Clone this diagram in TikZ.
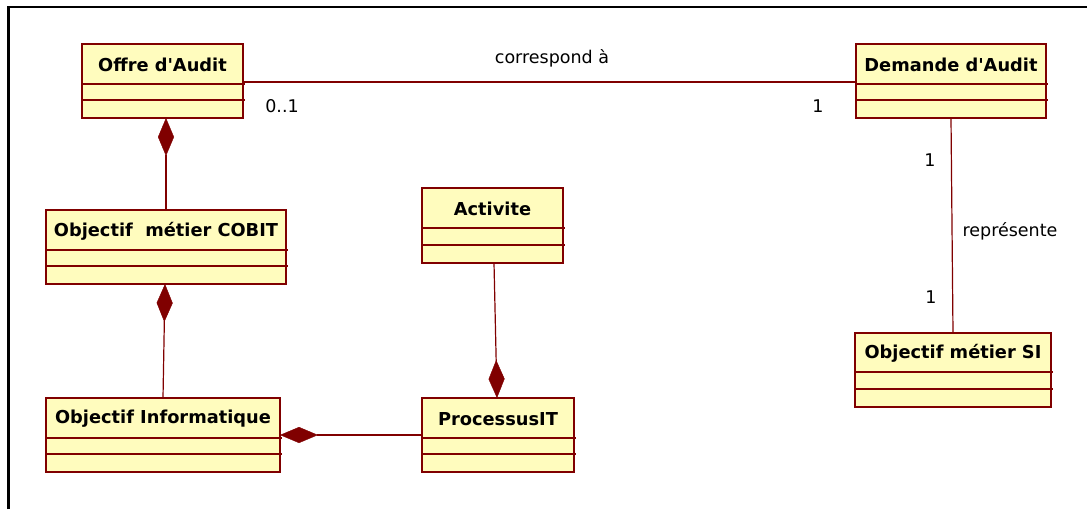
\documentclass[tikz,border=0pt]{standalone}
\usepackage{fontspec}
\setmainfont{DejaVu Sans}
\usetikzlibrary{arrows.meta,calc}
\definecolor{clsfill}{RGB}{255,252,190}
\definecolor{clsline}{RGB}{128,0,0}
\newcommand\umlbox[8]{%
  \node[cls, minimum width={#4-#2}, minimum height={#5-#3}] (#1) at ({(#2+#4)/2},{(#3+#5)/2}) {};
  \node[clstitle] (#1-t) at ({(#2+#4)/2},{(#3+#6)/2+1}) {#8};
  \draw[divider] (#2,#6) -- ({#4+2},#6);
  \draw[divider] (#2,#7) -- ({#4+2},#7);
}
\begin{document}
\begin{tikzpicture}[x=1pt,y=-1pt,
  cls/.style={draw=clsline, fill=clsfill, line width=1.4pt, inner sep=0pt, outer sep=0pt, rectangle},
  clstitle/.style={font=\fontsize{17.8}{21}\selectfont\bfseries, inner sep=0pt},
  lbl/.style={font=\fontsize{17.5}{20}\selectfont, inner sep=0pt},
  assoc/.style={draw=clsline, line width=1.2pt},
  comp/.style={assoc, -{Diamond[length=38pt,width=16pt,fill=clsline,line width=0.4pt]}},
  divider/.style={draw=clsline, line width=1.3pt},
  frame/.style={draw=black, line width=2.5pt}]
\useasboundingbox (0,0) rectangle (1087,509);
% frame
\coordinate (fbl) at (8.7,509);
\coordinate (ftl) at (8.7,7);
\coordinate (ftr) at (1087,7);
\draw[frame] (fbl) -- (ftl) -- (ftr);
% classes
\umlbox{offre}{82}{44}{243}{118}{84}{100}{Offre d\textquotesingle Audit}
\umlbox{demande}{856}{44}{1046}{118}{84}{100}{Demande d\textquotesingle Audit}
\umlbox{cobit}{46}{210}{286}{284}{250}{266}{Objectif\ \ métier COBIT}
\umlbox{activite}{422}{188}{563}{263}{228}{245}{Activite}
\umlbox{oi}{46}{398}{280}{472}{438}{454}{Objectif Informatique}
\umlbox{proc}{422}{398}{574}{472}{438}{454}{ProcessusIT}
\umlbox{si}{855}{333}{1051}{407}{372}{389}{Objectif métier SI}
% associations
\draw[assoc] (offre.east |- 0,82) -- (demande.west |- 0,82);
\node[lbl] (l-corr) at (552,58) {correspond à};
\node[lbl] (l-01) at (282,106) {0..1};
\node[lbl] (l-1a) at (818,106) {1};
\draw[comp] (cobit.north -| 166,0) -- (offre.south -| 166,0);
\draw[comp] (oi.north -| 163,0) -- (cobit.south -| 165,0);
\draw[comp] (activite.south -| 494,0) -- (proc.north -| 497,0);
\draw[comp] (proc.west |- 0,435) -- (oi.east |- 0,435);
\draw[assoc] (demande.south -| 951,0) -- (si.north -| 953,0);
\node[lbl] (l-1b) at (930,160) {1};
\node[lbl] (l-rep) at (1010,231) {représente};
\node[lbl] (l-1c) at (931,297) {1};
\end{tikzpicture}
\end{document}
